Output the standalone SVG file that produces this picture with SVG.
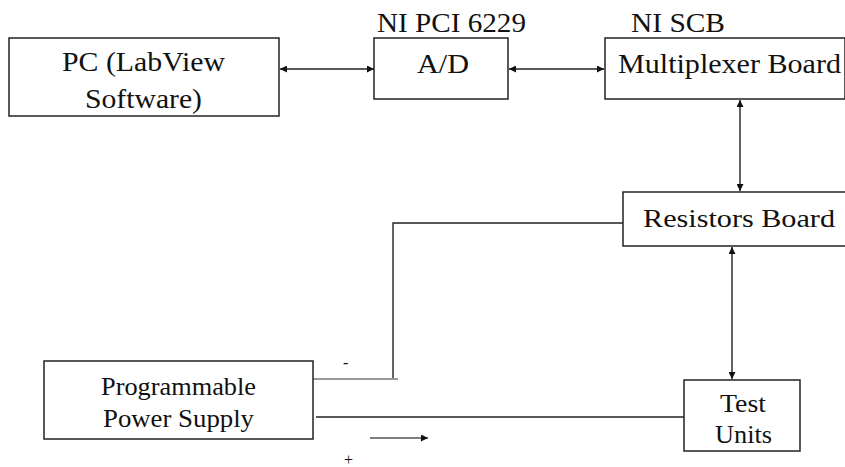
<svg xmlns="http://www.w3.org/2000/svg" width="845" height="467" viewBox="0 0 845 467">
<style>
.box{fill:#fff;stroke:#222;stroke-width:1.5}
.t{fill:#111}
.ln{fill:none;stroke:#222;stroke-width:1.4}
</style>
<defs>
<marker id="ah" viewBox="0 0 10 10" refX="10" refY="5" markerWidth="9" markerHeight="7" markerUnits="userSpaceOnUse" orient="auto-start-reverse">
<path d="M0,0 L10,5 L0,10 z" fill="#111"/>
</marker>
</defs>
<rect width="845" height="467" fill="#fff"/>
<g id="connectors" font-family="Liberation Serif, serif">
<line class="ln" x1="280" y1="69" x2="374" y2="69" marker-start="url(#ah)" marker-end="url(#ah)"/>
<line class="ln" x1="509" y1="69" x2="604" y2="69" marker-start="url(#ah)" marker-end="url(#ah)"/>
<line class="ln" x1="740" y1="100" x2="740" y2="191" marker-start="url(#ah)" marker-end="url(#ah)"/>
<line class="ln" x1="732" y1="247" x2="732" y2="379" marker-start="url(#ah)" marker-end="url(#ah)"/>
<polyline class="ln" points="623,223 393,223 393,379"/>
<line x1="312" y1="379" x2="398" y2="379" stroke="#999" stroke-width="2"/>
<line class="ln" x1="316" y1="417" x2="684" y2="417"/>
<line x1="370" y1="438" x2="428" y2="438" stroke="#555" stroke-width="1.6" marker-end="url(#ah)"/>
<text class="t" x="343" y="368" font-size="16" font-family="Liberation Serif, serif">-</text>
<text class="t" x="344" y="465" font-size="16" font-family="Liberation Serif, serif">+</text>
</g>
<g id="pc" font-family="Liberation Serif, serif">
<rect class="box" x="9" y="38" width="270" height="78"/>
<text class="t" x="62" y="71" font-size="27" font-family="Liberation Serif, serif" textLength="163" lengthAdjust="spacingAndGlyphs">PC (LabView</text>
<text class="t" x="85" y="108" font-size="27" font-family="Liberation Serif, serif" textLength="117" lengthAdjust="spacingAndGlyphs">Software)</text>
</g>
<g id="ad" font-family="Liberation Serif, serif">
<text class="t" x="377" y="32" font-size="27" font-family="Liberation Serif, serif" textLength="149" lengthAdjust="spacingAndGlyphs">NI PCI 6229</text>
<rect class="box" x="374" y="38" width="134" height="61"/>
<text class="t" x="417" y="73" font-size="27" font-family="Liberation Serif, serif" textLength="52" lengthAdjust="spacingAndGlyphs">A/D</text>
</g>
<g id="mux" font-family="Liberation Serif, serif">
<text class="t" x="631" y="32" font-size="27" font-family="Liberation Serif, serif" textLength="94" lengthAdjust="spacingAndGlyphs">NI SCB</text>
<rect class="box" x="605" y="38" width="240" height="61"/>
<text class="t" x="618" y="73" font-size="27" font-family="Liberation Serif, serif" textLength="223" lengthAdjust="spacingAndGlyphs">Multiplexer Board</text>
</g>
<g id="resistors" font-family="Liberation Serif, serif">
<rect class="box" x="623" y="192" width="224" height="54"/>
<text class="t" x="643" y="227" font-size="26" font-family="Liberation Serif, serif" textLength="192" lengthAdjust="spacingAndGlyphs">Resistors Board</text>
</g>
<g id="power" font-family="Liberation Serif, serif">
<rect class="box" x="44" y="361" width="269" height="78"/>
<text class="t" x="101" y="395" font-size="25" font-family="Liberation Serif, serif" textLength="155" lengthAdjust="spacingAndGlyphs">Programmable</text>
<text class="t" x="103" y="427" font-size="25" font-family="Liberation Serif, serif" textLength="151" lengthAdjust="spacingAndGlyphs">Power Supply</text>
</g>
<g id="test" font-family="Liberation Serif, serif">
<rect class="box" x="684" y="380" width="116" height="71"/>
<text class="t" x="720" y="412" font-size="25" font-family="Liberation Serif, serif" textLength="46" lengthAdjust="spacingAndGlyphs">Test</text>
<text class="t" x="715" y="443" font-size="25" font-family="Liberation Serif, serif" textLength="57" lengthAdjust="spacingAndGlyphs">Units</text>
</g>
</svg>
